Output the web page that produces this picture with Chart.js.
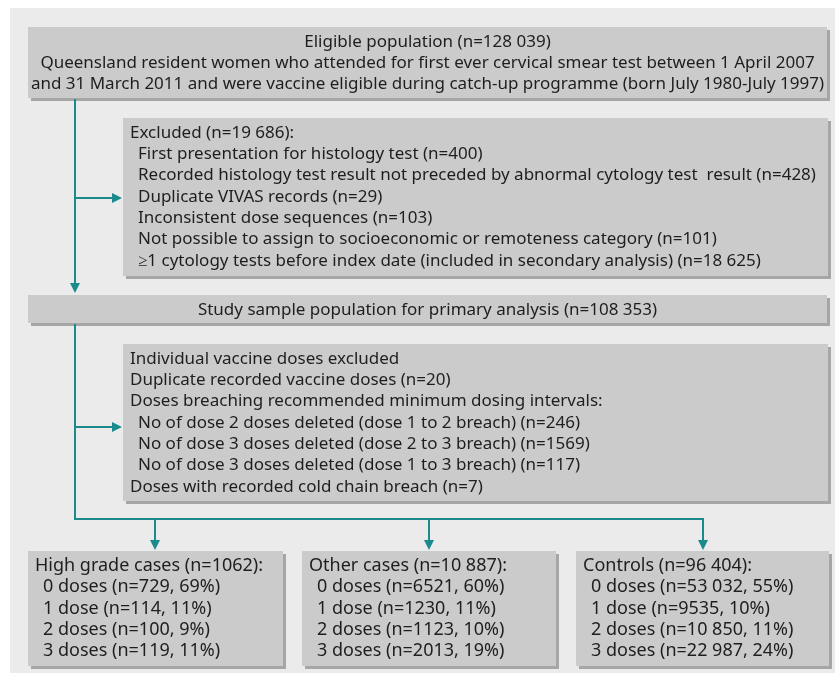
<!DOCTYPE html>
<html>
<head>
<meta charset="utf-8">
<script src="https://cdn.jsdelivr.net/npm/chart.js@4.4.1/dist/chart.umd.min.js"></script>
<style>
  html, body { margin: 0; padding: 0; background: #fff; }
  #wrap { width: 835px; height: 673px; }
</style>
</head>
<body>
<div id="wrap"><canvas id="flow" width="835" height="673"></canvas></div>
<script>
// Flow counts
const eligibleN = '128 039';
const eligibleText = [
    'Queensland resident women who attended for first ever cervical smear test between 1 April 2007',
    'and 31 March 2011 and were vaccine eligible during catch-up programme (born July 1980-July 1997)'
];
const excludedN = '19 686';
const exclusionReasons = [
    'First presentation for histology test',
    'Recorded histology test result not preceded by abnormal cytology test  result',
    'Duplicate VIVAS records',
    'Inconsistent dose sequences',
    'Not possible to assign to socioeconomic or remoteness category',
    '\u22651 cytology tests before index date (included in secondary analysis)'
];
const exclusionCounts = ['400', '428', '29', '103', '101', '18 625'];
const studyN = '108 353';
const doseExclusionLabels = [
    'Duplicate recorded vaccine doses',
    'Doses breaching recommended minimum dosing intervals:',
    'No of dose 2 doses deleted (dose 1 to 2 breach)',
    'No of dose 3 doses deleted (dose 2 to 3 breach)',
    'No of dose 3 doses deleted (dose 1 to 3 breach)',
    'Doses with recorded cold chain breach'
];
const doseExclusionCounts = ['20', null, '246', '1569', '117', '7'];
const doseExclusionIndent = [0, 0, 1, 1, 1, 0];
const groups = ['High grade cases', 'Other cases', 'Controls'];
const groupN = ['1062', '10 887', '96 404'];
const doseLabels = ['0 doses', '1 dose', '2 doses', '3 doses'];
const highGradeN = ['729', '114', '100', '119'];
const highGradePct = [69, 11, 9, 11];
const otherN = ['6521', '1230', '1123', '2013'];
const otherPct = [60, 11, 10, 19];
const controlN = ['53 032', '9535', '10 850', '22 987'];
const controlPct = [55, 10, 11, 24];

// Box layout (page units)
const boxes = {
    eligible: { x0: 28, y0: 27, x1: 827, y1: 98 },
    excluded: { x0: 123, y0: 118, x1: 828, y1: 276 },
    study: { x0: 28, y0: 295, x1: 827, y1: 323 },
    doses: { x0: 123, y0: 344, x1: 828, y1: 501 },
    g0: { x0: 28, y0: 551, x1: 283, y1: 666 },
    g1: { x0: 302, y0: 551, x1: 556, y1: 666 },
    g2: { x0: 576, y0: 551, x1: 829, y1: 666 }
};
const spineX = 75;
const splitY = 519;
const childX = [155, 429, 703];

const TEAL = '#1a8a8c';
const BOX = '#cbcbcb';
const SHADOW = '#a6a6a6';
const INK = '#1e1e1e';
const FONT = '17px "Noto Sans"';
const FONT_GROUP = '18px "Noto Sans"';
const LINE = 21.3;

function blockLines() {
    const out = [];
    out.push({ box: 'eligible', align: 'center', font: FONT, lines: ['Eligible population (n=' + eligibleN + ')'].concat(eligibleText) });
    out.push({ box: 'excluded', align: 'left', font: FONT, lines: ['Excluded (n=' + excludedN + '):']
        .concat(exclusionReasons.map((r, i) => ' ' + r + ' (n=' + exclusionCounts[i] + ')')) });
    out.push({ box: 'study', align: 'center', font: FONT, lines: ['Study sample population for primary analysis (n=' + studyN + ')'] });
    out.push({ box: 'doses', align: 'left', font: FONT, lines: ['Individual vaccine doses excluded']
        .concat(doseExclusionLabels.map((l, i) => (doseExclusionIndent[i] ? ' ' : '') + l +
            (doseExclusionCounts[i] ? ' (n=' + doseExclusionCounts[i] + ')' : ''))) });
    const series = [[highGradeN, highGradePct], [otherN, otherPct], [controlN, controlPct]];
    groups.forEach((g, k) => {
        out.push({ box: 'g' + k, align: 'left', font: FONT_GROUP, lines: [g + ' (n=' + groupN[k] + '):']
            .concat(doseLabels.map((d, i) => ' ' + d + ' (n=' + series[k][0][i] + ', ' + series[k][1][i] + '%)')) });
    });
    return out;
}

const flowPlugin = {
    id: 'flow',
    beforeDraw(chart) {
        const { ctx, scales: { x, y } } = chart;
        const px = v => x.getPixelForValue(v);
        const py = v => y.getPixelForValue(v);
        ctx.save();
        ctx.fillStyle = '#ebebeb';
        ctx.fillRect(px(10), py(8), px(835) - px(10), py(673) - py(8));

        // boxes with shadow
        Object.values(boxes).forEach(b => {
            ctx.fillStyle = SHADOW;
            ctx.fillRect(px(b.x0) + 3, py(b.y0) + 3, px(b.x1) - px(b.x0), py(b.y1) - py(b.y0));
            ctx.fillStyle = BOX;
            ctx.fillRect(px(b.x0), py(b.y0), px(b.x1) - px(b.x0), py(b.y1) - py(b.y0));
        });

        // connectors
        ctx.strokeStyle = TEAL;
        ctx.fillStyle = TEAL;
        ctx.lineWidth = 2;
        const seg = (xa, ya, xb, yb) => {
            ctx.beginPath(); ctx.moveTo(px(xa), py(ya)); ctx.lineTo(px(xb), py(yb)); ctx.stroke();
        };
        const head = (xt, yt, dir) => {
            const X = px(xt), Y = py(yt);
            ctx.beginPath();
            if (dir === 'down') { ctx.moveTo(X, Y); ctx.lineTo(X - 5, Y - 10); ctx.lineTo(X + 5, Y - 10); }
            else { ctx.moveTo(X, Y); ctx.lineTo(X - 10, Y - 5); ctx.lineTo(X - 10, Y + 5); }
            ctx.closePath(); ctx.fill();
        };
        seg(spineX, boxes.eligible.y1 + 1, spineX, boxes.study.y0 - 6);
        head(spineX, boxes.study.y0 - 2, 'down');
        const exY = boxes.excluded.y0 + 80;
        seg(spineX, exY, boxes.excluded.x0 - 6, exY);
        head(boxes.excluded.x0 - 1, exY, 'right');
        seg(spineX, boxes.study.y1 + 1, spineX, splitY);
        const dY = boxes.doses.y0 + 83;
        seg(spineX, dY, boxes.doses.x0 - 6, dY);
        head(boxes.doses.x0 - 1, dY, 'right');
        seg(spineX - 1, splitY, childX[2] + 1, splitY);
        childX.forEach((cx, k) => {
            seg(cx, splitY, cx, boxes['g' + k].y0 - 6);
            head(cx, boxes['g' + k].y0 - 1, 'down');
        });

        // text
        ctx.fillStyle = INK;
        ctx.textBaseline = 'middle';
        blockLines().forEach(blk => {
            const b = boxes[blk.box];
            ctx.font = blk.font;
            blk.lines.forEach((t, i) => {
                const yy = py(b.y0 + 15 + i * LINE);
                if (blk.align === 'center') {
                    ctx.textAlign = 'center';
                    ctx.fillText(t, px((b.x0 + b.x1) / 2), yy);
                } else {
                    ctx.textAlign = 'left';
                    const lead = t.startsWith(' ') ? 8 : 0;
                    ctx.fillText(t.trimStart(), px(b.x0 + 7) + lead, yy);
                }
            });
        });
        ctx.restore();
    }
};

new Chart(document.getElementById('flow'), {
    type: 'scatter',
    data: { datasets: [{ data: [], showLine: false }] },
    options: {
        responsive: false,
        animation: false,
        layout: { padding: 0 },
        plugins: { legend: { display: false }, tooltip: { enabled: false } },
        scales: {
            x: { type: 'linear', min: 0, max: 835, display: false },
            y: { type: 'linear', min: 0, max: 673, reverse: true, display: false }
        }
    },
    plugins: [flowPlugin]
});
</script>
</body>
</html>
